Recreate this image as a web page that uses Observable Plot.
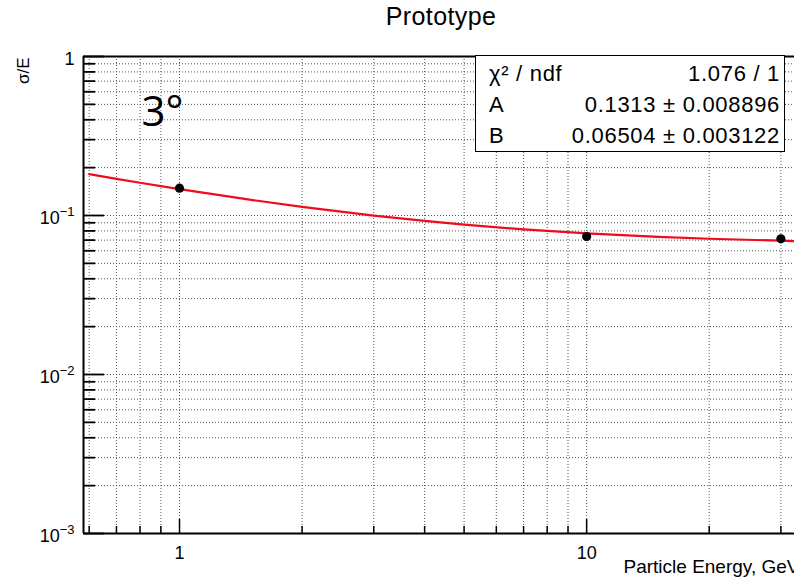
<!DOCTYPE html>
<html><head><meta charset="utf-8">
<script src="https://cdn.jsdelivr.net/npm/d3@7"></script>
<script src="https://cdn.jsdelivr.net/npm/@observablehq/plot@0.6"></script>
<style>
body{margin:0;background:#fff;}
#wrap{position:relative;width:794px;height:578px;overflow:hidden;font-family:"Liberation Sans",Arial,sans-serif;}
#stats{position:absolute;left:475px;top:55px;width:308px;height:95px;border:1.5px solid #000;background:#fff;font-size:22px;letter-spacing:0.7px;color:#000;}
.row{position:absolute;left:0;right:0;height:31px;line-height:31px;white-space:nowrap;}
.row .k{position:absolute;left:13px;}
.row .v{position:absolute;right:4px;}
</style></head><body><div id="wrap"></div>
<script>
// measured points
const energies = [1, 10, 30];
const resolution = [0.1485, 0.0738, 0.0713];
// fitted curve
const fitEnergy = [0.6, 0.7, 0.8, 1, 1.5, 2, 3, 4, 5, 7, 10, 15, 20, 30, 35];
const fitSigma = [0.182, 0.170, 0.1606, 0.1465, 0.1254, 0.1134, 0.0999, 0.0924, 0.0876, 0.0818, 0.0772, 0.0733, 0.0714, 0.0694, 0.0687];
// ticks and labels
const xMajor = [1, 10];
const xMajorLabels = ["1", "10"];
const xMinor = [0.6, 0.7, 0.8, 0.9, 2, 3, 4, 5, 6, 7, 8, 9, 20, 30];
const yMajor = [0.001, 0.01, 0.1, 1];
const yMajorLabels = ["10^−3", "10^−2", "10^−1", "1"];
const yMinor = [0.002,0.003,0.004,0.005,0.006,0.007,0.008,0.009,
                0.02,0.03,0.04,0.05,0.06,0.07,0.08,0.09,
                0.2,0.3,0.4,0.5,0.6,0.7,0.8,0.9];
const xDomain = [0.581, 32.4];
const yDomain = [0.001, 1];
const statLabels = ["χ² / ndf", "A", "B"];
const statValues = ["1.076 / 1", "0.1313 ± 0.008896", "0.06504 ± 0.003122"];
const title = "Prototype";
const xTitle = "Particle Energy, GeV";
const yTitle = "σ/E";
const annotation = "3°";

const pts = energies.map((e, i) => ({e, s: resolution[i]}));
const fit = fitEnergy.map((e, i) => ({e, s: fitSigma[i]}));
const allX = [...xMajor, ...xMinor];
const allY = [...yMajor, ...yMinor];
const W = 794, H = 578, mL = 83, mT = 56, mB = 45, mR = 0;
const innerW = W - mL - mR, innerH = H - mT - mB;
const grid = {stroke: "#555", strokeOpacity: 1, strokeDasharray: "1,2", strokeWidth: 1};

const svg = Plot.plot({
  width: W, height: H,
  marginLeft: mL, marginRight: mR, marginTop: mT, marginBottom: mB,
  style: {fontFamily: "'Liberation Sans', Arial, sans-serif", fontSize: "18px", color: "#000", background: "#fff"},
  x: {type: "log", domain: xDomain},
  y: {type: "log", domain: yDomain},
  marks: [
    Plot.ruleX(allX, {...grid}),
    Plot.ruleY(allY, {...grid}),
    Plot.tickX(xMajor, {x: d => d, insetTop: innerH - 14, stroke: "#000", strokeWidth: 1.5}),
    Plot.tickX(xMinor, {x: d => d, insetTop: innerH - 7, stroke: "#000", strokeWidth: 1.5}),
    Plot.tickY(yMajor, {y: d => d, insetRight: innerW - 21, stroke: "#000", strokeWidth: 1.8}),
    Plot.tickY(yMinor, {y: d => d, insetRight: innerW - 12, stroke: "#000", strokeWidth: 1.8}),
    Plot.ruleX([xDomain[0]], {stroke: "#000", strokeWidth: 2}),
    Plot.ruleY([yDomain[0], yDomain[1]], {stroke: "#000", strokeWidth: 2}),
    Plot.axisX({ticks: xMajor, tickFormat: d => xMajorLabels[xMajor.indexOf(d)], tickSize: 0, tickPadding: 13, label: null, fontSize: 18}),
    Plot.axisY({ticks: yMajor, tickFormat: d => yMajorLabels[yMajor.indexOf(d)], tickSize: 0, tickPadding: 9, label: null, fontSize: 18, dy: 3}),
    Plot.line(fit, {x: "e", y: "s", stroke: "#f00a1e", strokeWidth: 2.2, clip: true}),
    Plot.dot(pts, {x: "e", y: "s", r: 4.6, fill: "#000", stroke: "none"}),
    Plot.text([annotation], {frameAnchor: "top-left", dx: 79, dy: 56, textAnchor: "middle", lineAnchor: "middle", fontSize: 42, fontFamily: "'Open Sans', sans-serif", fill: "#000"}),
    Plot.text([title], {frameAnchor: "top", dx: 2, dy: -40, textAnchor: "middle", lineAnchor: "middle", fontSize: 25, fill: "#000", style: "letter-spacing:0.4px"}),
    Plot.text([xTitle], {frameAnchor: "bottom-left", dx: 540, dy: 33, textAnchor: "start", lineAnchor: "middle", fontSize: 19, fill: "#000"}),
    Plot.text([yTitle], {frameAnchor: "top-left", dx: -60, dy: 1, rotate: -90, textAnchor: "end", lineAnchor: "middle", fontSize: 17, fill: "#000"})
  ]
});

d3.select(svg).selectAll('g[aria-label="y-axis tick label"] text').each(function() {
  const parts = this.textContent.split("^");
  if (parts.length === 2) {
    this.textContent = parts[0];
    d3.select(this).append("tspan").attr("font-size", 13).attr("dy", -8).text(parts[1]);
  }
});
d3.select(svg).selectAll("text").filter(function() { return this.textContent === title; }).style("letter-spacing", "0.4px");

const wrap = document.getElementById("wrap");
wrap.appendChild(svg);
const box = document.createElement("div");
box.id = "stats";
statLabels.forEach((lab, i) => {
  const row = document.createElement("div");
  row.className = "row";
  row.style.top = [1.5, 33, 64][i] + "px";
  const k = document.createElement("span"); k.className = "k"; k.textContent = lab;
  const v = document.createElement("span"); v.className = "v"; v.textContent = statValues[i];
  row.appendChild(k); row.appendChild(v);
  box.appendChild(row);
});
wrap.appendChild(box);
</script>
</body></html>
